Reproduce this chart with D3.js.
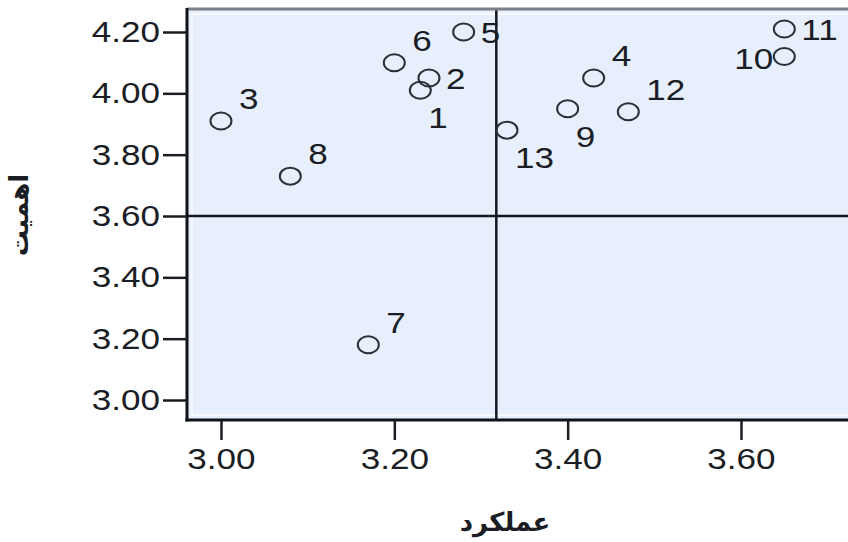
<!DOCTYPE html>
<html>
<head>
<meta charset="utf-8">
<script src="https://cdn.jsdelivr.net/npm/d3@7"></script>
<style>
  html, body { margin: 0; padding: 0; background: #ffffff; }
  svg { display: block; }
</style>
</head>
<body>
<script>
// ---------- data ----------
const ids         = ["1","2","3","4","5","6","7","8","9","10","11","12","13"];
const performance = [3.23, 3.24, 3.00, 3.43, 3.28, 3.20, 3.17, 3.08, 3.40, 3.65, 3.65, 3.47, 3.33];
const importance  = [4.01, 4.05, 3.91, 4.05, 4.20, 4.10, 3.18, 3.73, 3.95, 4.12, 4.21, 3.94, 3.88];
const labelSide   = ["dr","r","ur","ur","r","ur","ur","ur","dr","l","r","ur","dr"];
const xTicks = [3.00, 3.20, 3.40, 3.60];
const yTicks = [3.00, 3.20, 3.40, 3.60, 3.80, 4.00, 4.20];
const refImportance = 3.60;
const xTitle = "عملکرد";
const yTitle = "اهمیت";

// ---------- layout ----------
const W = 848, H = 542;
const pLeft = 187, pTop = 9, pBottom = 420, pRight = 880;
const SX = 1.17; // horizontal stretch of the scanned text
const numFont = "'Liberation Sans', Arial, sans-serif";

const svg = d3.select("body").append("svg").attr("width", W).attr("height", H);

const x = d3.scaleLinear().domain([2.9608, 3.7604]).range([pLeft, pRight]);
const y = d3.scaleLinear().domain([2.9348, 4.2750]).range([pBottom, pTop]);

// plot background
svg.append("defs").append("clipPath").attr("id", "plotclip")
  .append("rect").attr("x", pLeft).attr("y", pTop).attr("width", W - pLeft).attr("height", pBottom - pTop);

svg.append("rect").attr("x", pLeft).attr("y", pTop).attr("width", W - pLeft).attr("height", pBottom - pTop)
  .attr("fill", "#e6effb");
svg.append("rect").attr("x", pLeft + 5).attr("y", pTop + 5).attr("width", W - pLeft).attr("height", pBottom - pTop - 10)
  .attr("fill", "none").attr("stroke", "#ffffff").attr("stroke-width", 2).attr("opacity", 0.7);

const plot = svg.append("g").attr("clip-path", "url(#plotclip)");

// reference lines
const meanPerf = d3.mean(performance);
plot.append("line").attr("x1", pLeft).attr("x2", W).attr("y1", y(refImportance)).attr("y2", y(refImportance))
  .attr("stroke", "#15181e").attr("stroke-width", 2.5);
plot.append("line").attr("x1", x(meanPerf)).attr("x2", x(meanPerf)).attr("y1", pTop).attr("y2", pBottom)
  .attr("stroke", "#15181e").attr("stroke-width", 2.5);

// points
const pts = ids.map((id, i) => ({ id, px: performance[i], py: importance[i], side: labelSide[i] }));
plot.selectAll("ellipse.pt").data(pts).join("ellipse").attr("class", "pt")
  .attr("cx", d => x(d.px)).attr("cy", d => y(d.py))
  .attr("rx", 10.5).attr("ry", 8.5)
  .attr("fill", "none").attr("stroke", "#2b2f38").attr("stroke-width", 2);

const off = { ur: [18, -12, "start"], r: [17, 11, "start"], dr: [8, 38, "start"], l: [-11, 12, "end"] };
plot.selectAll("text.lbl").data(pts).join("text").attr("class", "lbl")
  .attr("transform", d => `translate(${x(d.px) + off[d.side][0]},${y(d.py) + off[d.side][1]}) scale(${SX},1)`)
  .attr("text-anchor", d => off[d.side][2])
  .attr("font-family", numFont).attr("font-size", 30).attr("fill", "#1a1d24")
  .text(d => d.id);

// frame
svg.append("line").attr("x1", pLeft).attr("x2", W).attr("y1", pTop).attr("y2", pTop)
  .attr("stroke", "#7b8089").attr("stroke-width", 3);
svg.append("line").attr("x1", pLeft).attr("x2", pLeft).attr("y1", pTop - 1).attr("y2", pBottom + 1.5)
  .attr("stroke", "#111318").attr("stroke-width", 3);
svg.append("line").attr("x1", pLeft - 1.5).attr("x2", W).attr("y1", pBottom).attr("y2", pBottom)
  .attr("stroke", "#111318").attr("stroke-width", 3);

// axes
const yAxis = d3.axisLeft(y).tickValues(yTicks).tickFormat(d3.format(".2f")).tickSize(24).tickPadding(3);
const gy = svg.append("g").attr("transform", `translate(${pLeft},0)`).call(yAxis);
const xAxis = d3.axisBottom(x).tickValues(xTicks).tickFormat(d3.format(".2f")).tickSize(20).tickPadding(8);
const gx = svg.append("g").attr("transform", `translate(0,${pBottom})`).call(xAxis);

[gy, gx].forEach(g => {
  g.select(".domain").remove();
  g.selectAll(".tick line").attr("stroke", "#1a1d24").attr("stroke-width", 2.5);
  g.selectAll(".tick text").attr("font-family", numFont).attr("font-size", 30).attr("fill", "#1a1d24");
});
gy.selectAll(".tick text").each(function () {
  const t = d3.select(this);
  const xx = +t.attr("x");
  t.attr("x", 0).attr("transform", `translate(${xx},0) scale(${SX},1)`);
});
gx.selectAll(".tick text").attr("transform", `scale(${SX},1)`);

// titles
svg.append("text").attr("x", 505).attr("y", 523).attr("text-anchor", "middle")
  .attr("dominant-baseline", "middle")
  .attr("font-family", "'DejaVu Sans', sans-serif").attr("font-size", 26).attr("font-weight", "bold")
  .attr("fill", "#1a1d24").text(xTitle);
svg.append("text").attr("transform", "translate(20,215) rotate(-90)").attr("text-anchor", "middle")
  .attr("dominant-baseline", "middle")
  .attr("font-family", "'DejaVu Sans', sans-serif").attr("font-size", 26).attr("font-weight", "bold")
  .attr("fill", "#1a1d24").text(yTitle);
</script>
</body>
</html>
